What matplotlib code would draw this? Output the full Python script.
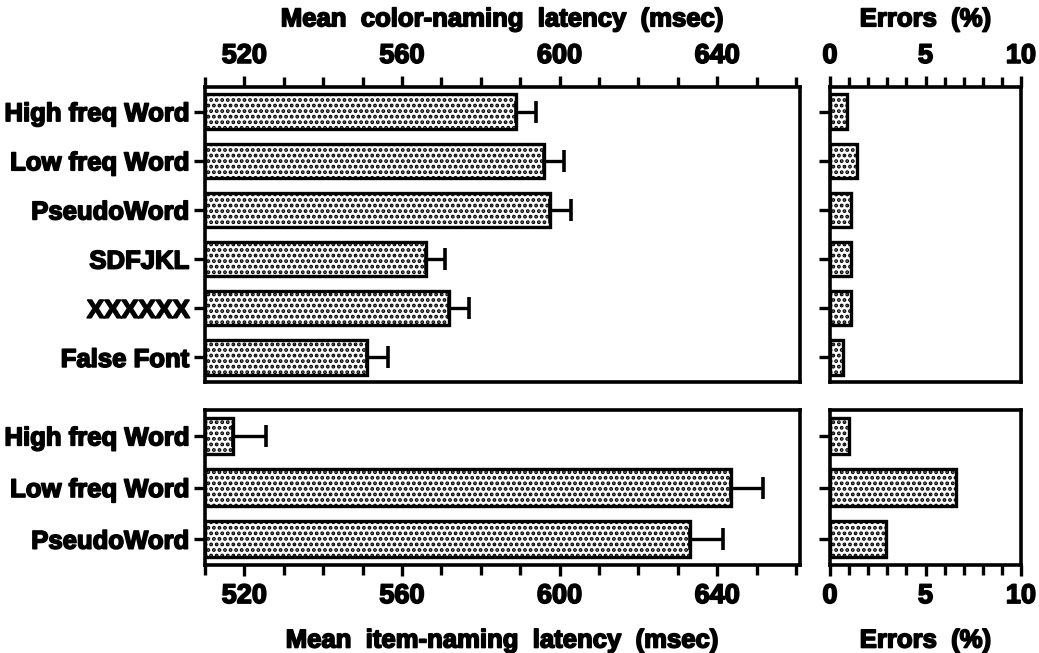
import matplotlib
matplotlib.use("Agg")
import matplotlib.pyplot as plt
import matplotlib.patheffects as pe
import numpy as np
from matplotlib.ticker import MultipleLocator

plt.rcParams['font.family'] = ['Liberation Sans', 'DejaVu Sans']
plt.rcParams['font.weight'] = 'bold'
plt.rcParams['hatch.linewidth'] = 1.9

# color-naming conditions (top panels)
color_labels = ['High freq Word', 'Low freq Word', 'PseudoWord', 'SDFJKL', 'XXXXXX', 'False Font']
color_rt = [589, 596, 597.5, 566, 572, 551]
color_se = [5, 5, 5.5, 5, 5, 5.5]
color_err = [0.9, 1.4, 1.1, 1.1, 1.1, 0.7]

# item-naming conditions (bottom panels)
item_labels = ['High freq Word', 'Low freq Word', 'PseudoWord']
item_rt = [517, 643.5, 633]
item_se = [8.5, 8, 8.5]
item_err = [1.0, 6.6, 2.95]

W, H = 1039, 653
fig = plt.figure(figsize=(W / 100, H / 100), dpi=100)


def box(x0, y0, x1, y1):
    return [x0 / W, 1 - y1 / H, (x1 - x0) / W, (y1 - y0) / H]


ax_tl = fig.add_axes(box(205, 87, 800, 382))
ax_tr = fig.add_axes(box(830, 87, 1021, 382))
ax_bl = fig.add_axes(box(205, 410, 800, 565))
ax_br = fig.add_axes(box(830, 410, 1021, 565))

bar_kw = dict(height=0.7, color='white', edgecolor='black', linewidth=2.4, hatch='...')
FS = 18.5
FAT = [pe.withStroke(linewidth=1.2, foreground='black')]


def fatten(texts):
    for t in texts:
        t.set_fontweight('bold')
        t.set_path_effects(FAT)


def style(ax, top):
    for s in ax.spines.values():
        s.set_linewidth(2.6)
    ax.tick_params(axis='both', which='both', direction='out', width=2.4)
    ax.tick_params(axis='x', which='major', length=8, pad=5, labelsize=19.5)
    ax.tick_params(axis='x', which='minor', length=7)
    ax.tick_params(axis='y', length=8, pad=3, labelsize=FS)
    if top:
        ax.xaxis.set_ticks_position('top')
        ax.xaxis.set_label_position('top')
    else:
        ax.xaxis.set_ticks_position('bottom')
    fatten(ax.get_xticklabels() + ax.get_yticklabels())


def latency_panel(ax, labels, rt, se, top, xlabel):
    y = np.arange(len(labels))
    left = 510
    ax.barh(y, np.array(rt) - left, left=left, **bar_kw)
    ax.errorbar(rt, y, xerr=[np.zeros(len(se)), se], fmt='none', ecolor='black',
                elinewidth=2.4, capsize=8, capthick=2.6)
    ax.set_xlim(510, 661)
    ax.set_ylim(len(labels) - 0.5, -0.5)
    ax.set_yticks(y)
    ax.set_yticklabels(labels)
    ax.set_xticks([520, 560, 600, 640])
    ax.xaxis.set_minor_locator(MultipleLocator(10))
    style(ax, top)
    lab = ax.set_xlabel(xlabel, fontsize=FS, fontweight='bold', labelpad=14 if not top else 12)
    fatten([lab])


def error_panel(ax, vals, top):
    y = np.arange(len(vals))
    ax.barh(y, vals, **bar_kw)
    ax.set_xlim(0, 10)
    ax.set_ylim(len(vals) - 0.5, -0.5)
    ax.set_yticks(y)
    ax.set_yticklabels([])
    ax.set_xticks([0, 5, 10])
    ax.xaxis.set_minor_locator(MultipleLocator(1))
    style(ax, top)
    lab = ax.set_xlabel('Errors  (%)', fontsize=FS, fontweight='bold', labelpad=14 if not top else 12)
    fatten([lab])


latency_panel(ax_tl, color_labels, color_rt, color_se, True, 'Mean  color-naming  latency  (msec)')
latency_panel(ax_bl, item_labels, item_rt, item_se, False, 'Mean  item-naming  latency  (msec)')
error_panel(ax_tr, color_err, True)
error_panel(ax_br, item_err, False)

fig.savefig('out.png', dpi=100)
